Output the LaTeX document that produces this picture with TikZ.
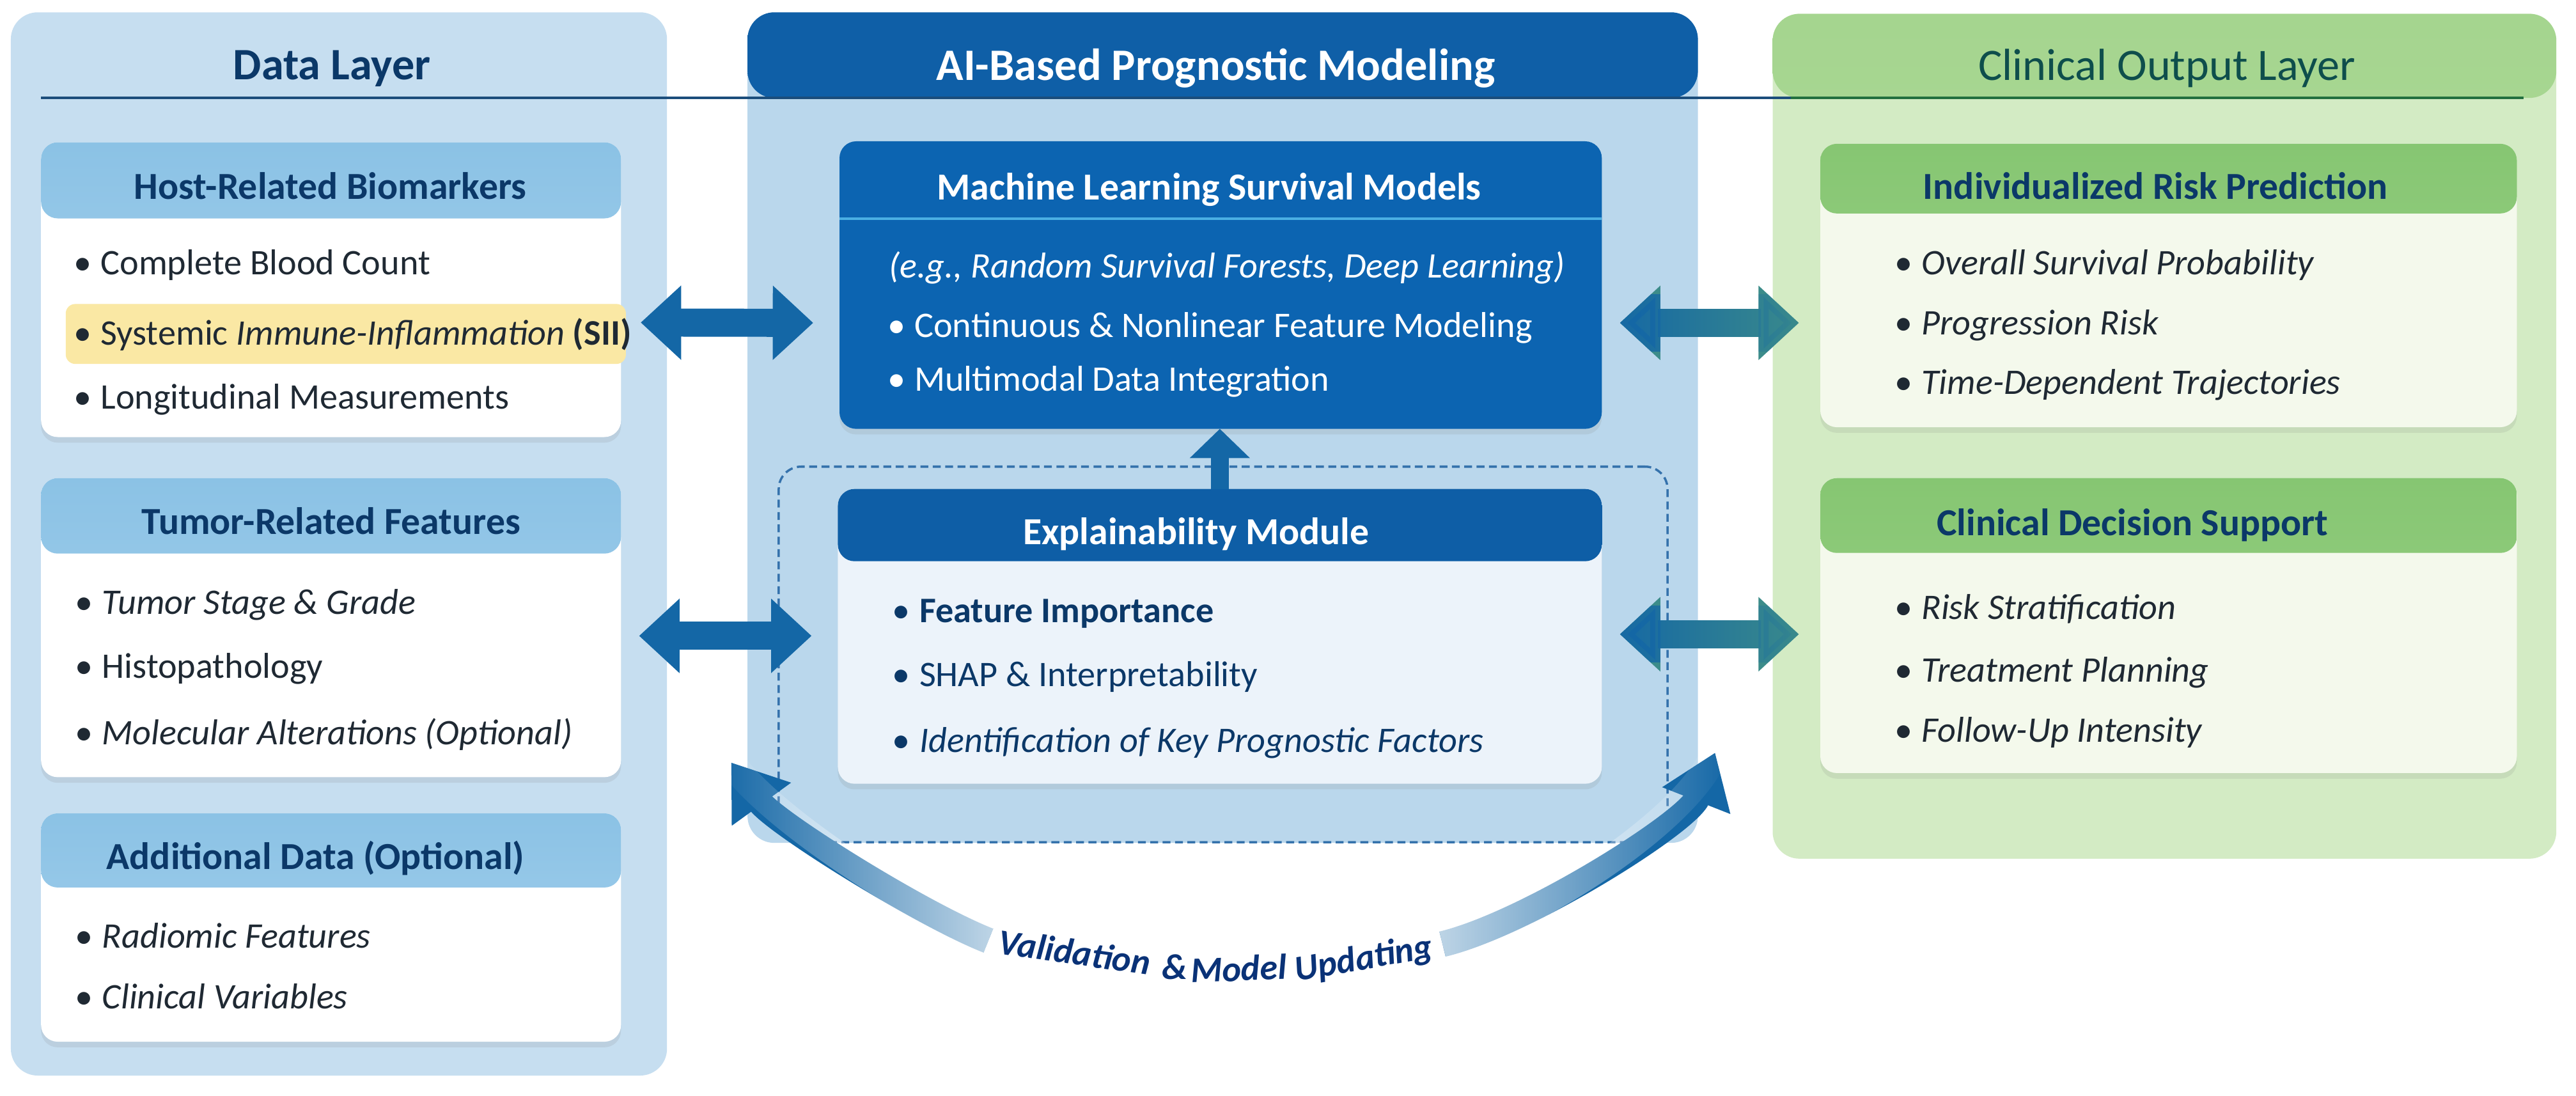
\documentclass[tikz,border=0pt]{standalone}
\usepackage{fontspec}
\setmainfont{Carlito}
\usetikzlibrary{arrows.meta,calc,fit,shadows,fadings}
\definecolor{panelblue}{HTML}{C6DEF0}
\definecolor{hdrT}{HTML}{8BC2E5}
\definecolor{hdrB}{HTML}{A9D3EE}
\definecolor{navy}{HTML}{0B3868}
\definecolor{txt}{HTML}{1F2933}
\definecolor{hl}{HTML}{FAE8A4}
\definecolor{midband}{HTML}{0F5FA7}
\definecolor{midbody}{HTML}{BAD7EC}
\definecolor{mlblue}{HTML}{0C64B1}
\definecolor{cyanl}{HTML}{4AAFE3}
\definecolor{explhead}{HTML}{0E5EA6}
\definecolor{explbody}{HTML}{ECF3FA}
\definecolor{dashblue}{HTML}{3572AC}
\definecolor{arrowblue}{HTML}{1467A6}
\definecolor{arrowteal}{HTML}{3C8C8A}
\definecolor{greenpanel}{HTML}{D3EBC4}
\definecolor{greenband}{HTML}{A5D58F}
\definecolor{greenbandB}{HTML}{B6DDA1}
\definecolor{greenhdrT}{HTML}{86C672}
\definecolor{greenhdrB}{HTML}{9DD28A}
\definecolor{greenbody}{HTML}{F4F9EC}
\definecolor{greentitle}{HTML}{0E4E4C}
\definecolor{lineblue}{HTML}{1B4D7B}
\definecolor{linegreen}{HTML}{22703E}
\tikzfading[name=fadeRight, left color=transparent!0, right color=transparent!100]
\tikzfading[name=wL, left color=transparent!100, middle color=transparent!88, right color=transparent!25]
\tikzfading[name=wR, left color=transparent!25, middle color=transparent!88, right color=transparent!100]
\newcommand\bul{\makebox[0.75em][l]{•}}
\begin{document}
\begin{tikzpicture}[x=0.025695cm, y=-0.025695cm,
  panel/.style={inner sep=0pt, outer sep=0pt, rounded corners=0.42cm},
  box/.style={inner sep=0pt, outer sep=0pt, rounded corners=0.26cm,
    drop shadow={opacity=0.15, shadow xshift=0pt, shadow yshift=-2.5pt}},
  hdr/.style n args={3}{path picture={\shade[top color=#1, bottom color=#2]
    (path picture bounding box.north west) rectangle ([yshift=-#3]path picture bounding box.north east);}},
  ttl/.style={font=\bfseries\fontsize{20}{24}\selectfont, text height=12.9pt, text depth=0pt, inner sep=0pt},
  btl/.style={font=\bfseries\fontsize{17}{20}\selectfont, text height=10.9pt, text depth=0pt, inner sep=0pt, text=navy},
  itm/.style={font=\fontsize{16}{19}\selectfont, anchor=west, text height=10.3pt, text depth=0pt, inner sep=0pt, text=txt},
  vlab/.style={font=\bfseries\itshape\fontsize{16}{19}\selectfont, text height=10.3pt, text depth=0pt, inner sep=0pt, text=navy!90!blue},
  dbl/.style={line width=12.5pt, draw=arrowblue, {Triangle[length=18pt,width=32pt]}-{Triangle[length=18pt,width=32pt]}},
  upa/.style={line width=8pt, draw=arrowblue, -{Triangle[length=13pt,width=26pt]}},
  curv/.style={line width=11.5pt, draw=arrowblue, -{Triangle[length=23pt,width=31pt]}}
]
\useasboundingbox (0,0) rectangle (1568,667);
\fill[white] (0,0) rectangle (1568,667);

% panels
\node[panel, fill=panelblue, fit={(6.6,7.5)(406,654.6)}] (data) {};
\node[panel, fill=midbody, fit={(455,7.5)(1033.5,513)}, hdr={midband}{midband}{1.339cm}] (mid) {};
\node[panel, fill=greenpanel, fit={(1079,8.4)(1556,522.6)}, hdr={greenband}{greenbandB}{1.316cm}] (out) {};

% header rule
\draw[line width=1.3pt, lineblue] (25,59.6) -- (1090,59.6);
\draw[line width=1.3pt, linegreen] (1090,59.6) -- (1536,59.6);

% panel titles
\node[ttl, text=navy] (tdata) at (202,39.5) {Data Layer};
\node[ttl, text=white] (tmid) at (740,40) {AI-Based Prognostic Modeling};
\node[ttl, text=greentitle, font=\fontsize{20}{24}\selectfont] (tout) at (1319,40) {Clinical Output Layer};

% dashed group
\node[fit={(474,284)(1015,512.6)}, inner sep=0pt, draw=dashblue, line width=1pt, dash pattern=on 3.5pt off 2pt, rounded corners=0.35cm] (dash) {};

% boxes
\node[box, fill=white, fit={(25,86.6)(378,266)}, hdr={hdrT}{hdrB}{1.19cm}] (host) {};
\node[box, fill=white, fit={(25,291)(378,473)}, hdr={hdrT}{hdrB}{1.18cm}] (tumor) {};
\node[box, fill=white, fit={(25,495)(378,634)}, hdr={hdrT}{hdrB}{1.16cm}] (addl) {};
\node[box, fill=mlblue, fit={(511,86)(975,261)}] (ml) {};
\draw[cyanl, line width=1.2pt] ([yshift=-1.21cm]ml.north west) -- ([yshift=-1.21cm]ml.north east);
\node[box, fill=explbody, fit={(510,297.6)(975,477)}, hdr={explhead}{explhead}{1.13cm}] (expl) {};
\node[box, fill=greenbody, fit={(1108,87.5)(1532,260)}, hdr={greenhdrT}{greenhdrB}{1.09cm}] (indiv) {};
\node[box, fill=greenbody, fit={(1108,291)(1532,470.5)}, hdr={greenhdrT}{greenhdrB}{1.17cm}] (decis) {};

% highlight
\node[fit={(40,185)(381,221.5)}, inner sep=0pt, fill=hl, rounded corners=0.15cm] (hlbox) {};

% box titles
\node[btl] (thost) at (201,113.6) {Host-Related Biomarkers};
\node[btl] (ttumor) at (201.5,317.6) {Tumor-Related Features};
\node[btl] (taddl) at (192,521.5) {Additional Data (Optional)};
\node[btl, text=white] (tml) at (736,114) {Machine Learning Survival Models};
\node[btl, text=white] (texpl) at (728,324) {Explainability Module};
\node[btl] (tindiv) at (1312,113.6) {Individualized Risk Prediction};
\node[btl] (tdecis) at (1298,318.5) {Clinical Decision Support};

% items
\node[itm] (h1) at (44.6,160) {\bul Complete Blood Count};
\node[itm] (h2) at (44.6,203) {\bul Systemic \textit{Immune-Inflammation} \textbf{(SII)}};
\node[itm] (h3) at (44.6,242) {\bul Longitudinal Measurements};
\node[itm] (t1) at (45.5,366.8) {\bul\textit{Tumor Stage \& Grade}};
\node[itm] (t2) at (45.5,405.7) {\bul Histopathology};
\node[itm] (t3) at (45.5,446) {\bul\textit{Molecular Alterations (Optional)}};
\node[itm] (a1) at (45.5,570) {\bul\textit{Radiomic Features}};
\node[itm] (a2) at (45.5,607) {\bul\textit{Clinical Variables}};
\node[itm, text=white] (m0) at (541,162) {\textit{(e.g., Random Survival Forests, Deep Learning)}};
\node[itm, text=white] (m1) at (540,198.4) {\bul Continuous \& Nonlinear Feature Modeling};
\node[itm, text=white] (m2) at (540,231) {\bul Multimodal Data Integration};
\node[itm, text=navy] (e1) at (543,371.8) {\bul\textbf{Feature Importance}};
\node[itm, text=navy] (e2) at (543,410.6) {\bul SHAP \& Interpretability};
\node[itm, text=navy] (e3) at (543,451) {\bul\textit{Identification of Key Prognostic Factors}};
\node[itm] (i1) at (1153,160) {\bul\textit{Overall Survival Probability}};
\node[itm] (i2) at (1153,196.5) {\bul\textit{Progression Risk}};
\node[itm] (i3) at (1153,233) {\bul\textit{Time-Dependent Trajectories}};
\node[itm] (d1) at (1153,370) {\bul\textit{Risk Stratification}};
\node[itm] (d2) at (1153,408) {\bul\textit{Treatment Planning}};
\node[itm] (d3) at (1153,444.5) {\bul\textit{Follow-Up Intensity}};

% connectors
\draw[dbl] ($(host.east)+(12,20)$) -- ($(ml.west)+(-16,23)$);
\draw[dbl] ($(tumor.east)+(11,5)$) -- ($(expl.west)+(-16,-0.3)$);
\draw[dbl, draw=arrowteal] ($(ml.east)+(11,23)$) -- ($(indiv.west)+(-13,22.75)$);
\draw[dbl, path fading=fadeRight] ($(ml.east)+(11,23)$) -- ($(indiv.west)+(-13,22.75)$);
\draw[dbl, draw=arrowteal] ($(expl.east)+(11,-1.3)$) -- ($(decis.west)+(-13,5.25)$);
\draw[dbl, path fading=fadeRight] ($(expl.east)+(11,-1.3)$) -- ($(decis.west)+(-13,5.25)$);
\draw[upa] (expl.north) -- (expl.north |- ml.south);

% validation loop
\node[vlab, rotate=-8] (v1) at (654,580) {Validation};
\node[vlab] (v2) at (715,589) {\&};
\node[vlab, rotate=2] (v3) at (754,590) {Model};
\node[vlab, rotate=10] (v4) at (830,583) {Updating};
\coordinate (lt) at (445,464);
\coordinate (rt) at (1044,458);
\draw[curv] ($(v1.west)+(-6,-1)$) .. controls (560,556) and (471.5,500.5) .. (lt);
\draw[line width=12.5pt, white, path fading=wL] ($(v1.west)+(-6,-1)$) .. controls (560,556) and (471.5,500.5) .. (lt);
\draw[curv] ($(v4.east)+(6,-1)$) .. controls (930,562) and (1027.5,500) .. (rt);
\draw[line width=12.5pt, white, path fading=wR] ($(v4.east)+(6,-1)$) .. controls (930,562) and (1027.5,500) .. (rt);
\end{tikzpicture}
\end{document}
